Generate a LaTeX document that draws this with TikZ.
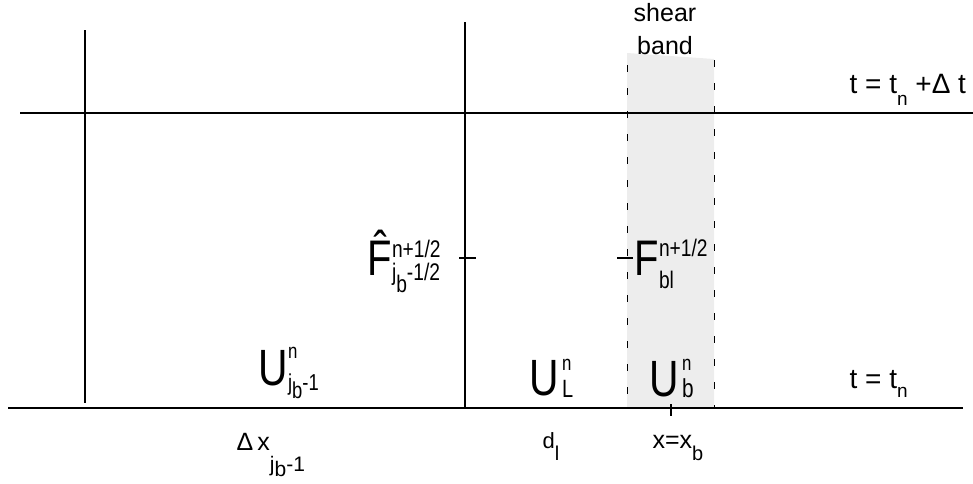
\documentclass[tikz,border=0pt]{standalone}
\usepackage{fontspec}
\setmainfont{Liberation Sans}
\newfontfamily\narrow[FakeStretch=0.8]{Liberation Sans}
\usetikzlibrary{positioning}
\newcommand\fsz[1]{\fontsize{#1}{#1}\selectfont}
\newcommand\up[3][22]{\raisebox{#2pt}{\fsz{#1}#3}}

\begin{document}
\begin{tikzpicture}[x=1pt,y=-1pt,line width=1.2pt,
  lbl/.style={inner sep=0pt,anchor=base west},
  sym/.style={lbl,font=\narrow},
  cut/.style={dash pattern=on 7pt off 16pt,line width=1pt}]
\useasboundingbox (0,0) rectangle (973,483);
% shear band
\fill[black!7] (627,53) -- (714,59) -- (714,408) -- (627,408) -- cycle;
\draw[cut] (627,65) -- (627,408);
\draw[cut] (714,60) -- (714,408);
\node[inner sep=0pt,anchor=north,align=center,font=\fontsize{25}{33}\selectfont] (band) at (665,3) {shear\\band};
% grid lines
\draw (20,113) -- (973,113);
\draw (8,408) -- (963,408);
\draw (85,30) -- (85,403);
\draw (465,22) -- (465,408);
% ticks
\draw (459,258) -- (476,258);
\draw (617,258) -- (633,258);
\draw (671,404) -- (671,416);
% fluxes
\node[sym] (fhat) at (367,275) {\fsz{50}\^{F}\rlap{\up[24]{18}{n+1/2}}\up[24]{-5}{j\up[24]{-12}{b}-1/2}};
\node[sym] (fbl) at (634,275) {\fsz{50}F\rlap{\up[24]{19}{n+1/2}}\up[24]{-13}{bl}};
% states
\node[sym] (uj) at (258,385) {\fsz{51}U\rlap{\up[21]{27}{n}}\up[23]{-5}{j\up[23]{-8}{b}-1}};
\node[sym] (ul) at (529,395) {\fsz{51}U\kern3pt\rlap{\up[21]{25}{n}}\up[25]{-2}{L}};
\node[sym] (ub) at (649,396) {\fsz{51}U\kern3pt\rlap{\up[21]{26}{n}}\up[26]{-1}{b}};
% time levels
\node[lbl] (tnew) at (849,93) {\fsz{28}t = t\up[19]{-12}{n} +Δ t};
\node[lbl] (told) at (849,388) {\fsz{28}t = t\up[19]{-9}{n}};
% cells
\node[lbl] (dx) at (236,450) {\fsz{25}Δ\,x\up[21]{-21}{j\up[21]{-5}{b}-1}};
\node[lbl] (dl) at (542,448) {\fsz{22}d\up[20]{-12}{l}};
\node[lbl] (xb) at (652,448) {\fsz{25}x=x\up[20]{-12}{b}};
\end{tikzpicture}
\end{document}
